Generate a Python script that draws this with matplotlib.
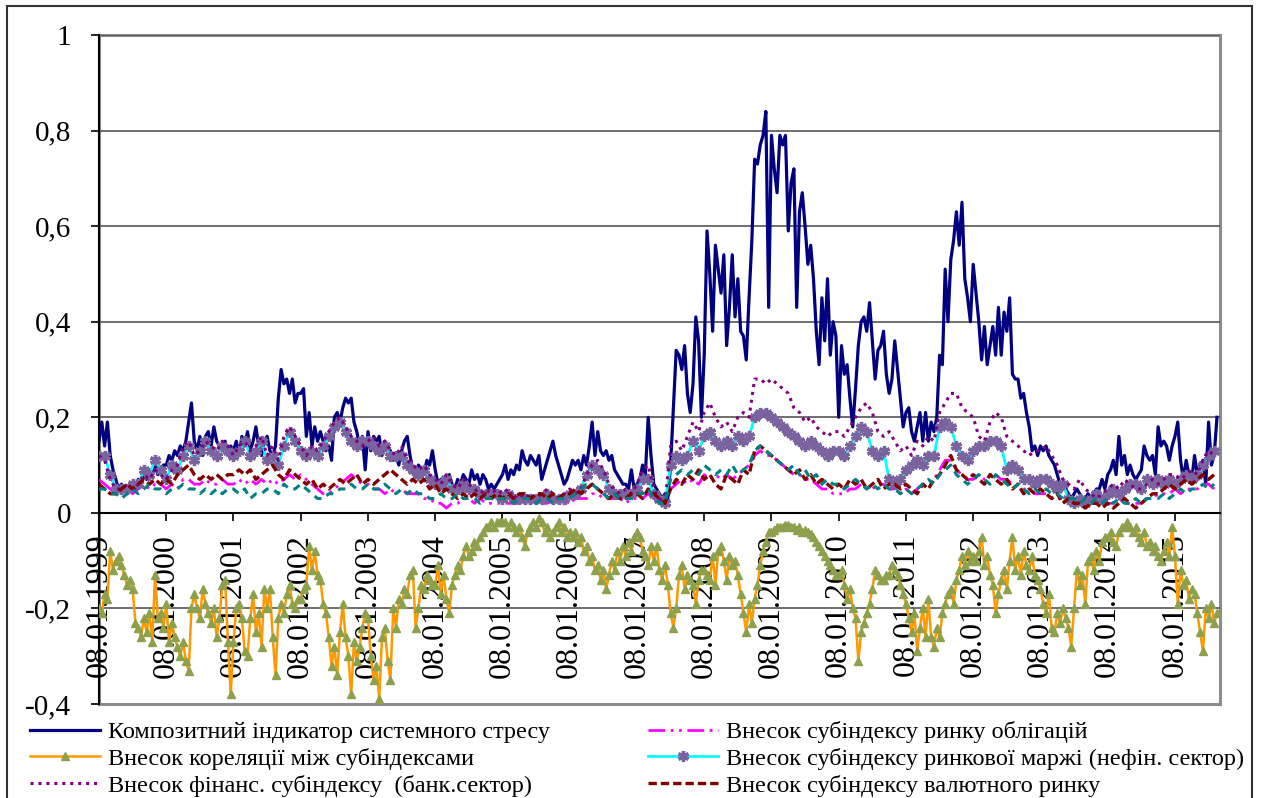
import numpy as np
import matplotlib
matplotlib.use('Agg')
from matplotlib import pyplot as plt
from matplotlib.patches import Rectangle

plt.rcParams['font.family'] = ['Liberation Serif', 'DejaVu Serif']

# weekly data, resampled by eye: 24 points per year for the two
# main series, 12 points per year for the sub-index contributions
years = list(range(1999, 2016))
tick_labels = ['08.01.%d' % y for y in years]
y_ticks = [-0.4, -0.2, 0, 0.2, 0.4, 0.6, 0.8, 1.0]
y_labels = ['-0,4', '-0,2', '0', '0,2', '0,4', '0,6', '0,8', '1']

composite = [
    0.15, 0.19, 0.14, 0.19, 0.12, 0.09, 0.07, 0.05, 0.06, 0.05, 0.04, 0.05, 0.06, 0.05, 0.07, 0.06, 0.08, 0.07, 0.09, 0.08, 0.10, 0.08, 0.09, 0.10,
    0.10, 0.12, 0.11, 0.13, 0.12, 0.14, 0.13, 0.15, 0.19, 0.23, 0.15, 0.13, 0.16, 0.12, 0.16, 0.17, 0.14, 0.18, 0.15, 0.14, 0.13, 0.15, 0.12, 0.14,
    0.13, 0.15, 0.12, 0.16, 0.14, 0.17, 0.13, 0.15, 0.18, 0.14, 0.12, 0.15, 0.16, 0.13, 0.12, 0.14, 0.24, 0.30, 0.27, 0.28, 0.25, 0.28, 0.23, 0.25,
    0.25, 0.26, 0.16, 0.21, 0.14, 0.18, 0.15, 0.17, 0.15, 0.13, 0.14, 0.11, 0.20, 0.21, 0.19, 0.22, 0.24, 0.23, 0.24, 0.19, 0.17, 0.14, 0.16, 0.09,
    0.17, 0.13, 0.16, 0.15, 0.16, 0.12, 0.15, 0.14, 0.13, 0.11, 0.12, 0.10, 0.13, 0.15, 0.16, 0.12, 0.09, 0.08, 0.10, 0.09, 0.08, 0.11, 0.10, 0.13,
    0.09, 0.06, 0.07, 0.05, 0.06, 0.08, 0.06, 0.05, 0.07, 0.06, 0.08, 0.07, 0.06, 0.09, 0.07, 0.08, 0.06, 0.08, 0.07, 0.05, 0.06, 0.05, 0.06, 0.07,
    0.08, 0.10, 0.07, 0.09, 0.08, 0.10, 0.09, 0.13, 0.11, 0.10, 0.12, 0.11, 0.10, 0.12, 0.07, 0.09, 0.11, 0.13, 0.15, 0.12, 0.10, 0.08, 0.06, 0.07,
    0.09, 0.11, 0.10, 0.11, 0.09, 0.12, 0.10, 0.14, 0.19, 0.12, 0.17, 0.13, 0.12, 0.13, 0.11, 0.12, 0.09, 0.08, 0.07, 0.06, 0.06, 0.05, 0.09, 0.05,
    0.06, 0.07, 0.10, 0.08, 0.20, 0.12, 0.06, 0.05, 0.04, 0.03, 0.04, 0.03, 0.10, 0.22, 0.34, 0.33, 0.30, 0.35, 0.25, 0.21, 0.27, 0.41, 0.36, 0.20,
    0.33, 0.59, 0.50, 0.38, 0.56, 0.51, 0.46, 0.54, 0.35, 0.43, 0.54, 0.41, 0.49, 0.38, 0.37, 0.32, 0.45, 0.57, 0.74, 0.73, 0.77, 0.79, 0.84, 0.43,
    0.79, 0.72, 0.67, 0.79, 0.77, 0.79, 0.59, 0.69, 0.72, 0.43, 0.63, 0.67, 0.60, 0.52, 0.56, 0.49, 0.38, 0.31, 0.45, 0.36, 0.49, 0.33, 0.40, 0.37,
    0.20, 0.35, 0.29, 0.31, 0.24, 0.18, 0.26, 0.35, 0.40, 0.41, 0.38, 0.44, 0.36, 0.28, 0.34, 0.35, 0.38, 0.29, 0.25, 0.28, 0.36, 0.30, 0.24, 0.18,
    0.21, 0.22, 0.17, 0.15, 0.18, 0.21, 0.15, 0.21, 0.15, 0.19, 0.17, 0.20, 0.33, 0.31, 0.51, 0.40, 0.53, 0.57, 0.63, 0.56, 0.65, 0.49, 0.45, 0.40,
    0.52, 0.46, 0.40, 0.32, 0.39, 0.31, 0.35, 0.39, 0.33, 0.43, 0.33, 0.42, 0.38, 0.45, 0.29, 0.28, 0.28, 0.24, 0.25, 0.21, 0.18, 0.13, 0.14, 0.12,
    0.14, 0.13, 0.14, 0.12, 0.11, 0.10, 0.08, 0.06, 0.05, 0.05, 0.04, 0.03, 0.04, 0.05, 0.04, 0.03, 0.03, 0.04, 0.03, 0.04, 0.05, 0.05, 0.07, 0.05,
    0.08, 0.09, 0.11, 0.08, 0.16, 0.10, 0.12, 0.08, 0.10, 0.08, 0.07, 0.08, 0.09, 0.14, 0.12, 0.11, 0.12, 0.08, 0.18, 0.14, 0.15, 0.14, 0.11, 0.14,
    0.16, 0.19, 0.11, 0.07, 0.11, 0.08, 0.07, 0.12, 0.08, 0.10, 0.11, 0.06, 0.19, 0.10, 0.12, 0.20,
]

correlation = [
    -0.20, -0.21, -0.17, -0.18, -0.08, -0.12, -0.10, -0.09, -0.11, -0.13, -0.15, -0.14, -0.16, -0.23, -0.24, -0.26, -0.22, -0.25, -0.21, -0.27, -0.13, -0.22, -0.21, -0.24,
    -0.19, -0.27, -0.23, -0.26, -0.28, -0.30, -0.27, -0.31, -0.33, -0.20, -0.17, -0.20, -0.22, -0.16, -0.19, -0.21, -0.23, -0.20, -0.26, -0.22, -0.15, -0.14, -0.27, -0.38,
    -0.27, -0.20, -0.19, -0.22, -0.29, -0.30, -0.22, -0.17, -0.25, -0.21, -0.28, -0.16, -0.20, -0.16, -0.26, -0.34, -0.22, -0.19, -0.21, -0.17, -0.15, -0.19, -0.20, -0.18,
    -0.18, -0.16, -0.15, -0.07, -0.12, -0.08, -0.13, -0.14, -0.19, -0.21, -0.26, -0.32, -0.28, -0.34, -0.25, -0.19, -0.26, -0.30, -0.38, -0.27, -0.31, -0.28, -0.24, -0.21,
    -0.22, -0.30, -0.35, -0.32, -0.39, -0.26, -0.24, -0.31, -0.35, -0.20, -0.24, -0.18, -0.19, -0.16, -0.17, -0.13, -0.12, -0.24, -0.20, -0.15, -0.16, -0.13, -0.14, -0.15,
    -0.15, -0.11, -0.17, -0.13, -0.18, -0.21, -0.15, -0.13, -0.11, -0.12, -0.09, -0.07, -0.09, -0.08, -0.06, -0.07, -0.05, -0.04, -0.03, -0.03, -0.02, -0.03, -0.02, -0.02,
    -0.02, -0.02, -0.03, -0.02, -0.03, -0.04, -0.03, -0.05, -0.07, -0.04, -0.03, -0.02, -0.03, -0.01, -0.02, -0.04, -0.03, -0.05, -0.04, -0.03, -0.02, -0.04, -0.03, -0.05,
    -0.04, -0.05, -0.04, -0.06, -0.05, -0.08, -0.07, -0.10, -0.09, -0.12, -0.11, -0.14, -0.12, -0.16, -0.13, -0.10, -0.12, -0.08, -0.10, -0.07, -0.09, -0.06, -0.08, -0.05,
    -0.04, -0.05, -0.08, -0.09, -0.11, -0.07, -0.10, -0.07, -0.12, -0.14, -0.11, -0.15, -0.21, -0.24, -0.20, -0.13, -0.11, -0.16, -0.13, -0.14, -0.15, -0.19, -0.14, -0.12,
    -0.12, -0.13, -0.14, -0.09, -0.15, -0.08, -0.07, -0.10, -0.14, -0.09, -0.11, -0.10, -0.13, -0.17, -0.21, -0.25, -0.19, -0.23, -0.18, -0.15, -0.11, -0.08, -0.06, -0.04,
    -0.04, -0.035, -0.03, -0.03, -0.03, -0.025, -0.025, -0.03, -0.03, -0.035, -0.03, -0.04, -0.035, -0.04, -0.045, -0.05, -0.06, -0.07, -0.08, -0.09, -0.10, -0.11, -0.12, -0.13,
    -0.13, -0.12, -0.15, -0.18, -0.16, -0.20, -0.22, -0.31, -0.25, -0.23, -0.21, -0.19, -0.16, -0.12, -0.13, -0.14, -0.14, -0.13, -0.13, -0.11, -0.12, -0.13, -0.15, -0.17,
    -0.19, -0.22, -0.25, -0.21, -0.29, -0.24, -0.20, -0.26, -0.18, -0.26, -0.28, -0.24, -0.26, -0.21, -0.19, -0.17, -0.16, -0.19, -0.14, -0.12, -0.09, -0.11, -0.08, -0.10,
    -0.09, -0.10, -0.08, -0.05, -0.11, -0.09, -0.13, -0.15, -0.21, -0.17, -0.14, -0.12, -0.16, -0.10, -0.05, -0.12, -0.09, -0.13, -0.08, -0.11, -0.12, -0.09, -0.13, -0.14,
    -0.16, -0.19, -0.21, -0.17, -0.24, -0.25, -0.21, -0.23, -0.20, -0.22, -0.24, -0.28, -0.20, -0.12, -0.15, -0.13, -0.19, -0.10, -0.09, -0.12, -0.08, -0.10, -0.06, -0.05,
    -0.05, -0.04, -0.06, -0.07, -0.04, -0.03, -0.03, -0.02, -0.03, -0.04, -0.03, -0.05, -0.06, -0.04, -0.07, -0.06, -0.08, -0.07, -0.09, -0.10, -0.08, -0.06, -0.09, -0.03,
    -0.09, -0.19, -0.12, -0.15, -0.14, -0.18, -0.16, -0.17, -0.21, -0.25, -0.29, -0.20, -0.22, -0.19, -0.23, -0.21,
]

financial = [
    0.12, 0.11, 0.07, 0.05, 0.05, 0.06, 0.05, 0.06, 0.08, 0.07, 0.09, 0.08,
    0.07, 0.09, 0.10, 0.14, 0.15, 0.12, 0.13, 0.15, 0.14, 0.13, 0.15, 0.14,
    0.12, 0.14, 0.15, 0.13, 0.14, 0.16, 0.12, 0.14, 0.11, 0.16, 0.18, 0.16,
    0.14, 0.12, 0.14, 0.13, 0.15, 0.17, 0.19, 0.20, 0.18, 0.16, 0.15, 0.14,
    0.15, 0.16, 0.14, 0.15, 0.13, 0.12, 0.14, 0.11, 0.10, 0.09, 0.10, 0.08,
    0.07, 0.06, 0.08, 0.06, 0.05, 0.07, 0.06, 0.05, 0.04, 0.05, 0.04, 0.05,
    0.04, 0.05, 0.03, 0.04, 0.03, 0.04, 0.03, 0.04, 0.05, 0.04, 0.03, 0.04,
    0.05, 0.04, 0.05, 0.08, 0.10, 0.11, 0.09, 0.06, 0.05, 0.04, 0.05, 0.04,
    0.06, 0.09, 0.10, 0.05, 0.03, 0.02, 0.14, 0.15, 0.13, 0.16, 0.19, 0.17,
    0.21, 0.23, 0.20, 0.18, 0.19, 0.17, 0.20, 0.21, 0.20, 0.28, 0.28, 0.27,
    0.28, 0.27, 0.26, 0.25, 0.22, 0.21, 0.19, 0.20, 0.18, 0.17, 0.16, 0.17,
    0.17, 0.16, 0.18, 0.20, 0.22, 0.23, 0.21, 0.17, 0.16, 0.17, 0.15, 0.13,
    0.14, 0.12, 0.15, 0.14, 0.16, 0.15, 0.21, 0.23, 0.25, 0.25, 0.22, 0.21,
    0.20, 0.16, 0.15, 0.19, 0.21, 0.20, 0.16, 0.15, 0.14, 0.13, 0.12, 0.13,
    0.13, 0.14, 0.12, 0.10, 0.07, 0.06, 0.05, 0.07, 0.05, 0.04, 0.03, 0.04,
    0.05, 0.06, 0.05, 0.07, 0.06, 0.05, 0.05, 0.06, 0.07, 0.06, 0.07, 0.08,
    0.08, 0.07, 0.08, 0.09, 0.08, 0.11, 0.13, 0.12,
]

bonds = [
    0.07, 0.06, 0.05, 0.04, 0.05, 0.05, 0.04, 0.05, 0.06, 0.05, 0.06, 0.06,
    0.05, 0.06, 0.05, 0.07, 0.07, 0.06, 0.06, 0.07, 0.06, 0.06, 0.07, 0.06,
    0.06, 0.07, 0.06, 0.07, 0.06, 0.07, 0.06, 0.07, 0.06, 0.07, 0.08, 0.07,
    0.08, 0.07, 0.06, 0.05, 0.04, 0.04, 0.05, 0.06, 0.07, 0.08, 0.07, 0.06,
    0.06, 0.05, 0.05, 0.04, 0.05, 0.04, 0.05, 0.04, 0.04, 0.04, 0.03, 0.03,
    0.02, 0.02, 0.01, 0.02, 0.02, 0.03, 0.03, 0.02, 0.03, 0.02, 0.02, 0.02,
    0.02, 0.02, 0.02, 0.02, 0.03, 0.02, 0.03, 0.02, 0.02, 0.03, 0.03, 0.02,
    0.02, 0.03, 0.03, 0.03, 0.04, 0.04, 0.03, 0.03, 0.03, 0.03, 0.02, 0.03,
    0.03, 0.03, 0.04, 0.03, 0.03, 0.02, 0.05, 0.06, 0.07, 0.06, 0.07, 0.06,
    0.08, 0.07, 0.08, 0.07, 0.08, 0.07, 0.08, 0.09, 0.10, 0.12, 0.13, 0.12,
    0.12, 0.11, 0.10, 0.09, 0.08, 0.08, 0.07, 0.07, 0.06, 0.05, 0.05, 0.04,
    0.04, 0.04, 0.05, 0.05, 0.06, 0.05, 0.05, 0.06, 0.06, 0.05, 0.05, 0.04,
    0.05, 0.04, 0.05, 0.06, 0.06, 0.07, 0.09, 0.11, 0.11, 0.09, 0.08, 0.07,
    0.07, 0.08, 0.07, 0.08, 0.08, 0.07, 0.07, 0.06, 0.06, 0.05, 0.05, 0.04,
    0.04, 0.04, 0.03, 0.03, 0.03, 0.03, 0.02, 0.03, 0.03, 0.02, 0.02, 0.02,
    0.02, 0.02, 0.03, 0.02, 0.02, 0.02, 0.02, 0.03, 0.03, 0.04, 0.04, 0.04,
    0.05, 0.04, 0.05, 0.05, 0.05, 0.06, 0.06, 0.05,
]

margin = [
    0.12, 0.12, 0.08, 0.05, 0.05, 0.05, 0.06, 0.06, 0.09, 0.08, 0.11, 0.09,
    0.07, 0.10, 0.09, 0.12, 0.14, 0.11, 0.13, 0.15, 0.13, 0.12, 0.14, 0.13,
    0.12, 0.13, 0.15, 0.12, 0.13, 0.15, 0.11, 0.12, 0.10, 0.14, 0.17, 0.15,
    0.13, 0.12, 0.13, 0.12, 0.14, 0.16, 0.18, 0.19, 0.17, 0.15, 0.14, 0.15,
    0.15, 0.14, 0.13, 0.14, 0.12, 0.12, 0.12, 0.10, 0.09, 0.08, 0.09, 0.07,
    0.06, 0.06, 0.07, 0.05, 0.05, 0.06, 0.05, 0.05, 0.04, 0.04, 0.04, 0.04,
    0.03, 0.04, 0.03, 0.03, 0.03, 0.03, 0.03, 0.03, 0.04, 0.03, 0.03, 0.03,
    0.04, 0.04, 0.05, 0.08, 0.10, 0.09, 0.08, 0.05, 0.04, 0.04, 0.04, 0.04,
    0.05, 0.07, 0.07, 0.04, 0.03, 0.02, 0.10, 0.12, 0.11, 0.12, 0.15, 0.13,
    0.16, 0.17, 0.15, 0.14, 0.15, 0.14, 0.16, 0.15, 0.16, 0.20, 0.21, 0.21,
    0.20, 0.19, 0.18, 0.17, 0.16, 0.15, 0.14, 0.15, 0.14, 0.13, 0.12, 0.13,
    0.13, 0.12, 0.14, 0.16, 0.18, 0.17, 0.13, 0.12, 0.13, 0.07, 0.06, 0.07,
    0.09, 0.10, 0.11, 0.10, 0.12, 0.12, 0.18, 0.19, 0.18, 0.14, 0.12, 0.11,
    0.13, 0.14, 0.14, 0.15, 0.15, 0.14, 0.09, 0.10, 0.09, 0.07, 0.07, 0.06,
    0.07, 0.07, 0.06, 0.05, 0.06, 0.03, 0.02, 0.03, 0.02, 0.03, 0.04, 0.03,
    0.04, 0.05, 0.04, 0.05, 0.06, 0.06, 0.05, 0.07, 0.06, 0.07, 0.06, 0.07,
    0.06, 0.07, 0.08, 0.07, 0.08, 0.10, 0.12, 0.13,
]

fx = [
    0.06, 0.05, 0.04, 0.04, 0.05, 0.06, 0.05, 0.06, 0.07, 0.06, 0.07, 0.06,
    0.07, 0.06, 0.08, 0.09, 0.10, 0.08, 0.07, 0.08, 0.07, 0.08, 0.07, 0.08,
    0.08, 0.09, 0.08, 0.09, 0.07, 0.08, 0.09, 0.10, 0.08, 0.07, 0.09, 0.08,
    0.07, 0.06, 0.07, 0.05, 0.06, 0.05, 0.06, 0.07, 0.06, 0.07, 0.08, 0.06,
    0.07, 0.06, 0.07, 0.08, 0.09, 0.08, 0.07, 0.06, 0.07, 0.06, 0.07, 0.05,
    0.06, 0.04, 0.05, 0.04, 0.03, 0.04, 0.03, 0.04, 0.03, 0.04, 0.03, 0.04,
    0.03, 0.04, 0.03, 0.04, 0.04, 0.03, 0.04, 0.04, 0.03, 0.04, 0.03, 0.04,
    0.04, 0.05, 0.04, 0.05, 0.06, 0.05, 0.04, 0.03, 0.04, 0.03, 0.03, 0.04,
    0.04, 0.03, 0.05, 0.04, 0.03, 0.02, 0.05, 0.07, 0.06, 0.08, 0.07, 0.09,
    0.07, 0.08, 0.06, 0.05, 0.08, 0.07, 0.06, 0.09, 0.08, 0.13, 0.14, 0.13,
    0.12, 0.11, 0.10, 0.09, 0.08, 0.09, 0.07, 0.08, 0.06, 0.07, 0.06, 0.05,
    0.06, 0.05, 0.07, 0.06, 0.07, 0.05, 0.06, 0.07, 0.05, 0.06, 0.06, 0.05,
    0.06, 0.05, 0.04, 0.06, 0.05, 0.07, 0.08, 0.10, 0.12, 0.09, 0.08, 0.07,
    0.08, 0.07, 0.06, 0.08, 0.07, 0.06, 0.07, 0.05, 0.06, 0.04, 0.05, 0.04,
    0.05, 0.04, 0.03, 0.04, 0.02, 0.03, 0.02, 0.02, 0.01, 0.02, 0.02, 0.01,
    0.02, 0.01, 0.02, 0.03, 0.02, 0.01, 0.02, 0.03, 0.04, 0.04, 0.05, 0.06,
    0.05, 0.06, 0.07, 0.06, 0.07, 0.08, 0.07, 0.08,
]

# teal series drawn in the chart whose legend row is cut off at the bottom
teal = [
    0.05, 0.05, 0.04, 0.04, 0.03, 0.04, 0.05, 0.04, 0.05, 0.06, 0.05, 0.05,
    0.04, 0.05, 0.05, 0.06, 0.05, 0.05, 0.04, 0.05, 0.04, 0.05, 0.04, 0.05,
    0.05, 0.04, 0.05, 0.03, 0.04, 0.04, 0.05, 0.05, 0.04, 0.06, 0.05, 0.05,
    0.06, 0.05, 0.04, 0.03, 0.03, 0.04, 0.04, 0.05, 0.05, 0.06, 0.05, 0.05,
    0.06, 0.05, 0.05, 0.06, 0.05, 0.04, 0.05, 0.04, 0.05, 0.04, 0.04, 0.03,
    0.03, 0.04, 0.03, 0.03, 0.04, 0.03, 0.03, 0.03, 0.02, 0.03, 0.03, 0.03,
    0.03, 0.03, 0.02, 0.03, 0.03, 0.03, 0.02, 0.03, 0.03, 0.02, 0.03, 0.03,
    0.03, 0.04, 0.05, 0.06, 0.06, 0.05, 0.04, 0.03, 0.04, 0.03, 0.03, 0.03,
    0.04, 0.04, 0.05, 0.03, 0.02, 0.02, 0.07, 0.08, 0.09, 0.08, 0.09, 0.08,
    0.10, 0.09, 0.08, 0.09, 0.08, 0.10, 0.08, 0.09, 0.10, 0.13, 0.14, 0.13,
    0.12, 0.11, 0.10, 0.09, 0.10, 0.08, 0.09, 0.07, 0.08, 0.06, 0.07, 0.06,
    0.06, 0.05, 0.06, 0.07, 0.06, 0.05, 0.06, 0.05, 0.06, 0.05, 0.05, 0.04,
    0.05, 0.04, 0.05, 0.06, 0.07, 0.06, 0.08, 0.09, 0.10, 0.08, 0.07, 0.06,
    0.07, 0.08, 0.07, 0.06, 0.08, 0.07, 0.06, 0.05, 0.06, 0.05, 0.04, 0.05,
    0.04, 0.05, 0.04, 0.04, 0.03, 0.03, 0.03, 0.02, 0.03, 0.02, 0.03, 0.02,
    0.03, 0.02, 0.03, 0.02, 0.02, 0.03, 0.02, 0.03, 0.03, 0.03, 0.04, 0.03,
    0.04, 0.05, 0.04, 0.05, 0.05, 0.06, 0.05, 0.06,
]

x_half = np.arange(len(composite)) / 24.0
x_month = np.arange(len(financial)) / 12.0

fig = plt.figure(figsize=(12.61, 7.98), dpi=100)
ax = fig.add_axes([99 / 1261, 1 - 704 / 798, 1121 / 1261, 669 / 798])

h_comp, = ax.plot(x_half, composite, color='#000080', lw=2.3, zorder=3,
                  label='Композитний індикатор системного стресу')
h_bond, = ax.plot(x_month, bonds, color='#FF00FF', lw=2, ls=(0, (6, 2, 1, 2, 1, 2)), zorder=4,
                  label='Внесок субіндексу ринку облігацій')
h_corr, = ax.plot(x_half, correlation, color='#FF9900', lw=1.8, marker='^', ms=6,
                  mfc='#8DA04C', mec='#8DA04C', zorder=5,
                  label='Внесок кореляції між субіндексами')
h_marg, = ax.plot(x_month, margin, color='#00FFFF', lw=2, marker=(6, 2, 0), ms=8, mew=2.4,
                  mec='#7A639E', mfc='#7A639E', zorder=6,
                  label='Внесок субіндексу ринкової маржі (нефін. сектор)')
h_fin, = ax.plot(x_month, financial, color='#800080', lw=2.2, ls=(0, (1, 1.6)), zorder=7,
                 label='Внесок фінанс. субіндексу  (банк.сектор)')
h_fx, = ax.plot(x_month, fx, color='#800000', lw=2.4, ls=(0, (2.5, 1.2)), zorder=8,
                label='Внесок субіндексу валютного ринку')
ax.plot(x_month, teal, color='#008080', lw=2.2, ls=(0, (2.5, 2)), zorder=9)

# move the x axis to y = 0 first: this resets the ticks
ax.spines['bottom'].set_position(('data', 0))
ax.spines['bottom'].set_linewidth(1.5)
ax.spines['left'].set_linewidth(1.5)
ax.spines['top'].set_visible(False)
ax.spines['right'].set_visible(False)

ax.set_xlim(0, 16.67)
ax.set_ylim(-0.4, 1.0)
ax.set_yticks(y_ticks)
ax.set_yticklabels(y_labels)
ax.set_xticks(range(len(years)))
ax.set_xticklabels(tick_labels, rotation=90, va='top', ha='center')
ax.tick_params(axis='x', direction='out', length=6, width=1.2, pad=9, labelsize=23)
ax.tick_params(axis='y', direction='out', length=6, width=1.2, pad=14, labelsize=21)

for y in y_ticks[1:]:
    ax.axhline(y, color='#555555', lw=1.2, zorder=1)
ax.add_patch(Rectangle((0, 0), 1, 1, transform=ax.transAxes, fill=False,
                       ec='#8c8c8c', lw=2.2, zorder=0.5, clip_on=False))

fig.add_artist(Rectangle((7 / 1261, -0.02), 1245 / 1261, 1.0125, transform=fig.transFigure,
                         fill=False, ec='#333333', lw=1.5))

leg_opts = dict(loc='upper left', frameon=False, fontsize=17.5, handlelength=2.9,
                handletextpad=0.3, labelspacing=0.2, borderpad=0, borderaxespad=0)
fig.legend(handles=[h_comp, h_corr, h_fin], bbox_to_anchor=(30 / 1261, 1 - 721 / 798), **leg_opts)
fig.legend(handles=[h_bond, h_marg, h_fx], bbox_to_anchor=(648 / 1261, 1 - 721 / 798), **leg_opts)

fig.savefig('out.png', dpi=100)
